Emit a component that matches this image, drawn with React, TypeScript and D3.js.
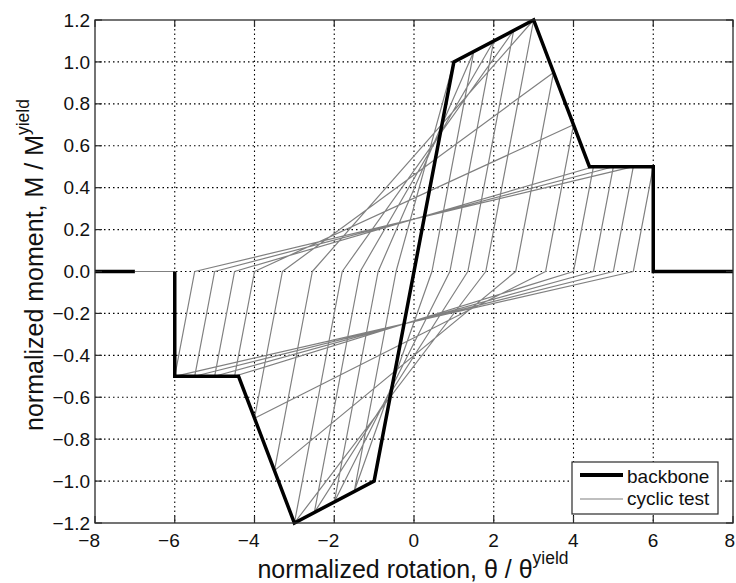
import React from 'react';
import * as d3 from 'd3';

const W = 736;
const H = 583;

const xTicks = [-8, -6, -4, -2, 0, 2, 4, 6, 8];
const yTicks = [-1.2, -1.0, -0.8, -0.6, -0.4, -0.2, 0, 0.2, 0.4, 0.6, 0.8, 1.0, 1.2];

// backbone (envelope) curve
const backboneTheta = [-6, -6, -4.4, -3, -1, 1, 3, 4.4, 6, 6, 8];
const backboneMoment = [0, -0.5, -0.5, -1.2, -1.0, 1.0, 1.2, 0.5, 0.5, 0, 0];
const backboneTailTheta = [-8, -7];
const backboneTailMoment = [0, 0];

// cyclic test path
const cyclicTheta = [
  0, -0.5, 0.5, -1, 1, -1, -1.5, -0.45, 1, 1.5, 0.45, -1.5, -2, -0.9, 1.5, 2, 0.9, -2, -2.5, -1.35,
  2, 2.5, 1.35, -2.5, -3, -1.8, 2.5, 3, 1.8, -3, -3.5, -2.55, 3, 3.5, 2.55, -3.5, -4, -3.3, 3.5, 4,
  3.3, -4, -4.4, -4.5, -4, 4, 4.4, 4.5, 4, -4.5, -5, -4.5, 4.5, 5, 4.5, -5, -5.5, -5, 5, 5.5,
  5, -5.5, -6, -5.5, 5.5, 6, 5.5, -6, -6, -7,
];
const cyclicMoment = [
  0, -0.5, 0.5, -1, 1, -1, -1.05, 0, 1, 1.05, 0, -1.05, -1.1, 0, 1.05, 1.1, 0, -1.1, -1.15, 0,
  1.1, 1.15, 0, -1.15, -1.2, 0, 1.15, 1.2, 0, -1.2, -0.95, 0, 1.2, 0.95, 0, -0.95, -0.7, 0, 0.95, 0.7,
  0, -0.7, -0.5, -0.5, 0, 0.7, 0.5, 0.5, 0, -0.5, -0.5, 0, 0.5, 0.5, 0, -0.5, -0.5, 0, 0.5, 0.5,
  0, -0.5, -0.5, 0, 0.5, 0.5, 0, -0.5, 0, 0,
];

const legendLabels = ['backbone', 'cyclic test'];

const fmtY = (v: number) => (v < 0 ? '\u2212' : '') + Math.abs(v).toFixed(1);
const fmtX = (v: number) => (v < 0 ? '\u2212' : '') + Math.abs(v).toString();

export default function App() {
  const left = 95, right = 733, top = 20, bottom = 523;
  const x = d3.scaleLinear().domain([-8, 8]).range([left, right]);
  const y = d3.scaleLinear().domain([-1.2, 1.2]).range([bottom, top]);
  const line = d3
    .line<[number, number]>()
    .x((d) => x(d[0]))
    .y((d) => y(d[1]));

  const cyc = d3.zip(cyclicTheta, cyclicMoment) as [number, number][];
  const bb = d3.zip(backboneTheta, backboneMoment) as [number, number][];
  const bbTail = d3.zip(backboneTailTheta, backboneTailMoment) as [number, number][];

  const font = '"Liberation Sans", Arial, Helvetica, sans-serif';
  const tickLen = 7;
  const axisColor = '#2a2a2a';
  const gray = '#808080';

  return (
    <svg
      width={W}
      height={H}
      style={{ position: 'absolute', left: 0, top: 0, background: '#fff' }}
      fontFamily={font}
    >
      <rect x={0} y={0} width={W} height={H} fill="#fff" />
      {/* grid */}
      <g stroke="#000" strokeWidth={1.1} strokeDasharray="1.5,3">
        {xTicks.slice(1, -1).map((t) => (
          <line key={'gx' + t} x1={x(t)} x2={x(t)} y1={top} y2={bottom} />
        ))}
        {yTicks.slice(1, -1).map((t) => (
          <line key={'gy' + t} x1={left} x2={right} y1={y(t)} y2={y(t)} />
        ))}
      </g>
      {/* cyclic test */}
      <path d={line(cyc) || ''} fill="none" stroke={gray} strokeWidth={1.2} strokeLinejoin="round" />
      {/* backbone */}
      <path d={line(bb) || ''} fill="none" stroke="#000" strokeWidth={3.5} strokeLinejoin="miter" />
      <path d={line(bbTail) || ''} fill="none" stroke="#000" strokeWidth={3.5} />
      {/* axes box */}
      <rect x={left} y={top} width={right - left} height={bottom - top} fill="none" stroke={axisColor} strokeWidth={1.3} />
      {/* ticks */}
      <g stroke={axisColor} strokeWidth={1.2}>
        {xTicks.map((t) => (
          <g key={'tx' + t}>
            <line x1={x(t)} x2={x(t)} y1={bottom} y2={bottom - tickLen} />
            <line x1={x(t)} x2={x(t)} y1={top} y2={top + tickLen} />
          </g>
        ))}
        {yTicks.map((t) => (
          <g key={'ty' + t}>
            <line x1={left} x2={left + tickLen} y1={y(t)} y2={y(t)} />
            <line x1={right} x2={right - tickLen} y1={y(t)} y2={y(t)} />
          </g>
        ))}
      </g>
      {/* tick labels */}
      <g fontSize={19} fill="#111">
        {xTicks.map((t) => (
          <text key={'lx' + t} x={Math.min(x(t) + 5, 735)} y={547} textAnchor="end">
            {fmtX(t)}
          </text>
        ))}
        {yTicks.map((t) => (
          <text key={'ly' + t} x={90} y={y(t)} dy="0.35em" textAnchor="end">
            {fmtY(t)}
          </text>
        ))}
      </g>
      {/* axis labels */}
      <text x={413} y={578} fontSize={25} textAnchor="middle" fill="#111">
        normalized rotation, θ / θ
        <tspan fontSize={17.5} dy={-14}>yield</tspan>
      </text>
      <text transform="translate(43,265) rotate(-90)" fontSize={25} textAnchor="middle" fill="#111">
        normalized moment, M / M
        <tspan fontSize={17.5} dy={-14}>yield</tspan>
      </text>
      {/* legend */}
      <g>
        <rect x={572} y={462} width={146} height={52} fill="#fff" stroke={axisColor} strokeWidth={1.2} />
        <line x1={580} x2={623} y1={475} y2={475} stroke="#000" strokeWidth={4} />
        <line x1={580} x2={623} y1={499} y2={499} stroke={gray} strokeWidth={1.2} />
        <text x={627} y={483} fontSize={19} fill="#111">{legendLabels[0]}</text>
        <text x={627} y={505} fontSize={19} fill="#111">{legendLabels[1]}</text>
      </g>
    </svg>
  );
}
